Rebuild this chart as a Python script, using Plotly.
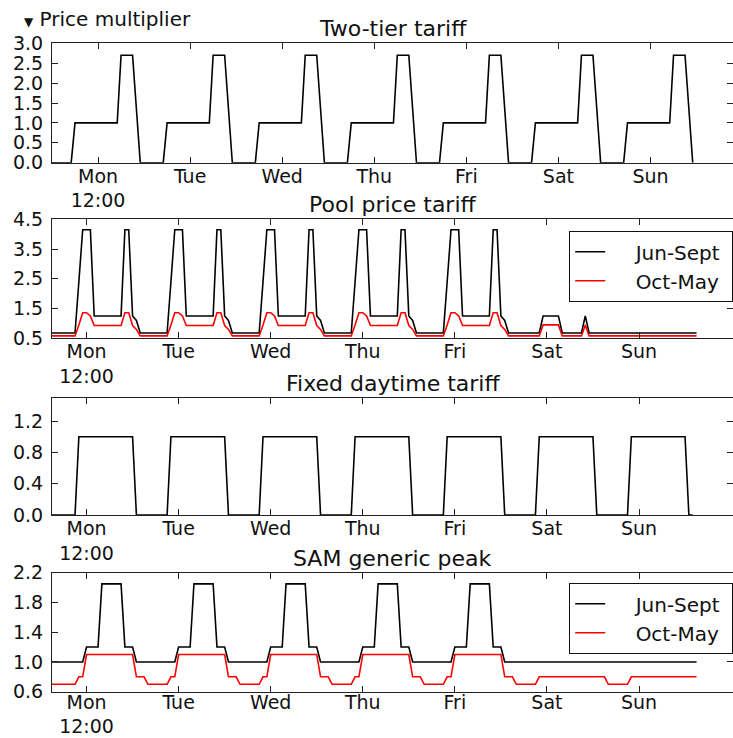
import plotly.graph_objects as go

# ---------------- data (hourly, one week, hour 0 = start of plot) ----------------
day_names = ["Mon", "Tue", "Wed", "Thu", "Fri", "Sat", "Sun"]
tick_labels = ["Mon<br>12:00", "Tue", "Wed", "Thu", "Fri", "Sat", "Sun"]

# Two-tier tariff: one day profile (hours 0..23), same every day
two_tier_day = [0, 0, 0, 0, 0, 0, 1.0, 1.0, 1.0, 1.0, 1.0, 1.0,
                1.0, 1.0, 1.0, 1.0, 1.0, 1.0, 2.7, 2.7, 2.7, 2.7, 1.35, 0]

# Pool price tariff
pool_summer_weekday = [0.68, 0.68, 0.68, 0.68, 0.68, 0.68, 0.68, 2.4, 4.15, 4.15, 4.15, 1.25,
                       1.25, 1.25, 1.25, 1.25, 1.25, 1.25, 1.25, 4.15, 4.15, 1.25, 1.1, 0.68]
pool_summer_sat = [0.68, 0.68, 0.68, 0.68, 0.68, 0.68, 0.68, 0.68, 1.25, 1.25, 1.25, 1.25,
                   1.25, 0.68, 0.68, 0.68, 0.68, 0.68, 0.68, 1.25, 0.68, 0.68, 0.68, 0.68]
pool_summer_sun = [0.68] * 24
pool_winter_weekday = [0.58, 0.58, 0.58, 0.58, 0.58, 0.58, 0.58, 0.95, 1.36, 1.36, 1.25, 0.93,
                       0.93, 0.93, 0.93, 0.93, 0.93, 0.93, 0.93, 1.36, 1.36, 0.93, 0.8, 0.58]
pool_winter_sat = [0.58, 0.58, 0.58, 0.58, 0.58, 0.58, 0.58, 0.58, 0.95, 0.95, 0.95, 0.95,
                   0.95, 0.58, 0.58, 0.58, 0.58, 0.58, 0.58, 0.95, 0.58, 0.58, 0.58, 0.58]
pool_winter_sun = [0.58] * 24

# Fixed daytime tariff
fixed_day = [0, 0, 0, 0, 0, 0, 0, 1.0, 1.0, 1.0, 1.0, 1.0,
             1.0, 1.0, 1.0, 1.0, 1.0, 1.0, 1.0, 1.0, 1.0, 1.0, 0, 0]

# SAM generic peak
sam_summer_weekday = [1.0, 1.0, 1.0, 1.0, 1.0, 1.0, 1.0, 1.0, 1.0, 1.2, 1.2, 1.2,
                      1.2, 2.05, 2.05, 2.05, 2.05, 2.05, 2.05, 1.2, 1.2, 1.2, 1.0, 1.0]
sam_summer_weekend = [1.0] * 24
sam_winter_mon = [0.7, 0.7, 0.7, 0.7, 0.7, 0.7, 0.7, 0.8, 0.8, 1.1, 1.1, 1.1,
                  1.1, 1.1, 1.1, 1.1, 1.1, 1.1, 1.1, 1.1, 1.1, 1.1, 0.8, 0.8]
sam_winter_weekday = [0.8, 0.7, 0.7, 0.7, 0.7, 0.7, 0.7, 0.8, 0.8, 1.1, 1.1, 1.1,
                      1.1, 1.1, 1.1, 1.1, 1.1, 1.1, 1.1, 1.1, 1.1, 1.1, 0.8, 0.8]
sam_winter_weekend = [0.8, 0.7, 0.7, 0.7, 0.7, 0.7, 0.7, 0.8, 0.8, 0.8, 0.8, 0.8,
                      0.8, 0.8, 0.8, 0.8, 0.8, 0.8, 0.8, 0.8, 0.8, 0.8, 0.8, 0.8]

# weekly series (Mon..Sun) + closing point
two_tier = two_tier_day * 7
pool_summer = pool_summer_weekday * 5 + pool_summer_sat + pool_summer_sun + [0.68]
pool_winter = pool_winter_weekday * 5 + pool_winter_sat + pool_winter_sun + [0.58]
fixed = fixed_day * 7
sam_summer = sam_summer_weekday * 5 + sam_summer_weekend * 2 + [1.0]
sam_winter = sam_winter_mon + sam_winter_weekday * 4 + sam_winter_weekend * 2 + [0.8]

# ticks (hour of "12:00" each day; top panel uses a different offset)
ticks_top = [12, 36, 60, 84, 108, 132, 156]
ticks_other = [9, 33, 57, 81, 105, 129, 153]

# ---------------- figure ----------------
W, H = 733, 738
ML = 52
PW = W - ML

def py(v):
    return 1 - v / H

def pxx(v):
    return (v - ML) / PW

panels = [  # (top px, bottom px)
    (43.3, 162.7),
    (219.3, 338.3),
    (397.7, 515.0),
    (572.7, 691.7),
]

FONT = "DejaVu Sans"
NB = "\u00a0"
fig = go.Figure()

def add_line(x, y, color, name, idx, show, legend=None):
    fig.add_trace(go.Scatter(
        x=x, y=y, mode="lines", name=name,
        line=dict(color=color, width=1.6),
        xaxis="x" if idx == 1 else f"x{idx}",
        yaxis="y" if idx == 1 else f"y{idx}",
        showlegend=show, legend=legend,
    ))

lab_summer = NB * 4 + "Jun-Sept" + NB
lab_winter = NB * 4 + "Oct-May"

add_line(list(range(len(two_tier))), two_tier, "black", "Two-tier", 1, False)
add_line(list(range(len(pool_summer))), pool_summer, "black", lab_summer, 2, True, "legend")
add_line(list(range(len(pool_winter))), pool_winter, "#ff0000", lab_winter, 2, True, "legend")
add_line(list(range(len(fixed))), fixed, "black", "Fixed", 3, False)
add_line(list(range(len(sam_summer))), sam_summer, "black", lab_summer, 4, True, "legend2")
add_line(list(range(len(sam_winter))), sam_winter, "#ff0000", lab_winter, 4, True, "legend2")

yspecs = [
    ([0, 3.0], [0, 0.5, 1.0, 1.5, 2.0, 2.5, 3.0], ["0.0", "0.5", "1.0", "1.5", "2.0", "2.5", "3.0"]),
    ([0.5, 4.5], [0.5, 1.5, 2.5, 3.5, 4.5], ["0.5", "1.5", "2.5", "3.5", "4.5"]),
    ([0, 1.5], [0, 0.4, 0.8, 1.2], ["0.0", "0.4", "0.8", "1.2"]),
    ([0.6, 2.2], [0.6, 1.0, 1.4, 1.8, 2.2], ["0.6", "1.0", "1.4", "1.8", "2.2"]),
]

axis_common = dict(
    showline=True, linecolor="#222222", linewidth=1.2, mirror="ticks",
    ticks="inside", ticklen=6, tickcolor="#222222", tickwidth=1,
    showgrid=False, zeroline=False, automargin=False,
    tickfont=dict(family=FONT, size=19, color="#111111"),
)

layout = {}
for i, ((top, bot), (yr, yt, ytt)) in enumerate(zip(panels, yspecs), start=1):
    xs = "xaxis" if i == 1 else f"xaxis{i}"
    ys = "yaxis" if i == 1 else f"yaxis{i}"
    layout[xs] = dict(
        axis_common, domain=[0, 1], range=[0, 177.5],
        anchor="y" if i == 1 else f"y{i}",
        tickmode="array", tickvals=ticks_top if i == 1 else ticks_other,
        ticktext=tick_labels, ticklabelstandoff=-7 if i == 4 else -4,
    )
    layout[ys] = dict(
        axis_common, domain=[py(bot), py(top)], range=yr,
        anchor="x" if i == 1 else f"x{i}",
        tickmode="array", tickvals=yt, ticktext=ytt, ticklabelstandoff=4,
    )

fig.update_layout(**layout)

titles = ["Two-tier tariff", "Pool price tariff", "Fixed daytime tariff", "SAM generic peak"]
anns = []
for t, (top, bot) in zip(titles, panels):
    anns.append(dict(text=t, x=0.5, y=py(top), xref="paper", yref="paper",
                     xanchor="center", yanchor="bottom", showarrow=False,
                     font=dict(family=FONT, size=22, color="#111111")))
anns.append(dict(text="<span style='font-size:12px'>\u25bc</span> Price multiplier",
                 x=pxx(22), y=py(33), xref="paper", yref="paper",
                 xanchor="left", yanchor="bottom", showarrow=False,
                 font=dict(family=FONT, size=20, color="#111111")))

leg_common = dict(
    bgcolor="white", bordercolor="#111111", borderwidth=1.2,
    font=dict(family=FONT, size=20, color="#111111"),
    xanchor="right", x=1.0, yanchor="top", tracegroupgap=0,
    itemwidth=30,
)

fig.update_layout(
    width=W, height=H,
    margin=dict(l=ML, r=0, t=0, b=0),
    paper_bgcolor="white", plot_bgcolor="white",
    annotations=anns,
    legend=dict(leg_common, y=py(231)),
    legend2=dict(leg_common, y=py(583)),
    font=dict(family=FONT),
)

fig.write_html("out.html", config={"displayModeBar": False},
               post_script="document.body.style.margin='0px';")
